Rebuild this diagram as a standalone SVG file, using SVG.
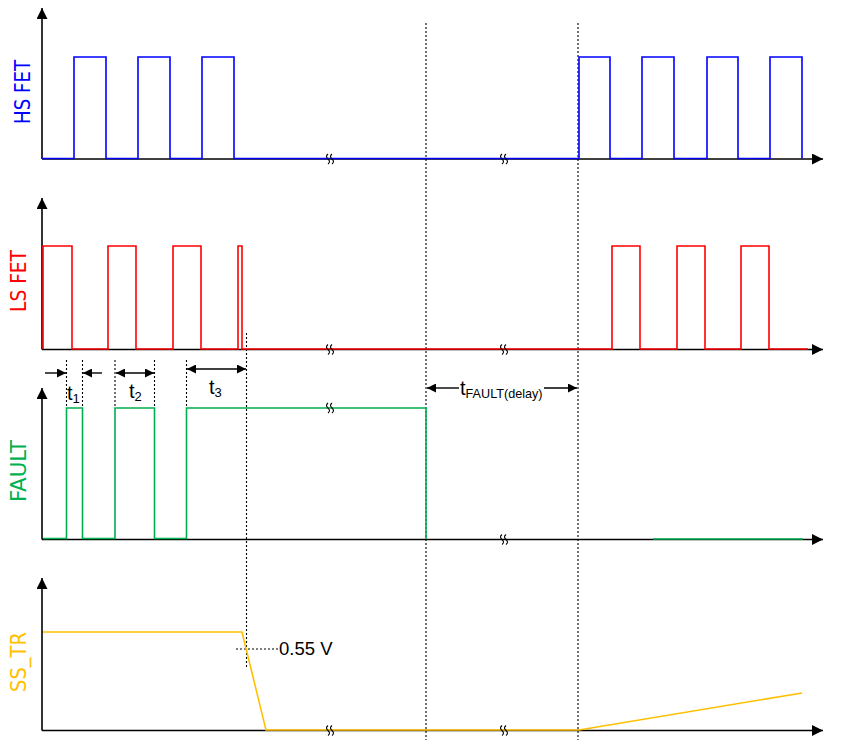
<svg xmlns="http://www.w3.org/2000/svg" width="842" height="751" viewBox="0 0 842 751">
<defs>
<style>
.ax{stroke:#000;stroke-width:1.6;fill:none}
.wf{fill:none;stroke-width:1.6;stroke-linejoin:miter}
.hs{stroke:#0000FF}
.ls{stroke:#FF0000}
.ft{stroke:#00B050}
.ss{stroke:#FFC000}
.dash{stroke:#000;stroke-width:1.1;stroke-dasharray:2,2;fill:none}
.dim{stroke:#000;stroke-width:1.4;fill:none}
.lbl{font-family:"DejaVu Sans Condensed","DejaVu Sans","Liberation Sans",sans-serif;font-stretch:condensed;font-size:21px}
.t{font-family:"Liberation Sans",Arial,sans-serif;font-size:20px;fill:#000}
.sub{font-size:13px}
.v{font-size:18.5px}
.brk{fill:none;stroke:#000;stroke-width:1.1}
</style>
<marker id="ah" viewBox="0 0 10 10" refX="10" refY="5" markerWidth="16" markerHeight="11" markerUnits="userSpaceOnUse" orient="auto"><path d="M0,0L10,5L0,10z" fill="#000"/></marker>
<marker id="da" viewBox="0 0 10 10" refX="10" refY="5" markerWidth="12" markerHeight="9" markerUnits="userSpaceOnUse" orient="auto-start-reverse"><path d="M0,0L10,5L0,10z" fill="#000"/></marker>
<g id="bk"><path class="brk" d="M-2,-5c-2.5,2-1.5,3.5 0,5s2.5,3 0,5M2,-5c-2.5,2-1.5,3.5 0,5s2.5,3 0,5"/></g>
</defs>

<!-- dashed guide lines -->
<g id="guides">
<line class="dash" x1="426" y1="23" x2="426" y2="740"/>
<line class="dash" x1="578" y1="23" x2="578" y2="740"/>
<line class="dash" x1="246.5" y1="333" x2="246.5" y2="667"/>
<line class="dash" x1="66.5" y1="360" x2="66.5" y2="408"/>
<line class="dash" x1="82.5" y1="360" x2="82.5" y2="408"/>
<line class="dash" x1="115" y1="360" x2="115" y2="408"/>
<line class="dash" x1="154.5" y1="360" x2="154.5" y2="408"/>
<line class="dash" x1="186.5" y1="360" x2="186.5" y2="408"/>
<line class="dash" x1="236" y1="649" x2="278" y2="649"/>
</g>

<!-- HS FET -->
<g id="hs-fet">
<line class="ax" x1="42" y1="159" x2="42" y2="8" marker-end="url(#ah)"/>
<line class="ax" x1="42" y1="159" x2="823" y2="159" marker-end="url(#ah)"/>
<path class="wf hs" d="M42,158.5H74V57H106V158.5H138V57H170V158.5H202V57H234V158.5H579V57H610V158.5H642V57H674V158.5H707V57H738V158.5H770V57H802V158.5"/>
<text class="lbl" fill="#0000FF" transform="translate(30,92) rotate(-90)" text-anchor="middle" textLength="64" lengthAdjust="spacingAndGlyphs">HS FET</text>
<use href="#bk" x="330" y="159"/>
<use href="#bk" x="504" y="159"/>
</g>

<!-- LS FET -->
<g id="ls-fet">
<line class="ax" x1="42" y1="349.5" x2="42" y2="198" marker-end="url(#ah)"/>
<line class="ax" x1="42" y1="349.5" x2="823" y2="349.5" marker-end="url(#ah)"/>
<path class="wf ls" d="M43,349V246H72V349H108V246H136V349H173V246H201V349H238V246H242V349H612V246H640V349H677V246H705V349H741V246H769V349H808"/>
<text class="lbl" fill="#FF0000" transform="translate(26,281) rotate(-90)" text-anchor="middle" textLength="62" lengthAdjust="spacingAndGlyphs">LS FET</text>
<use href="#bk" x="330" y="349.5"/>
<use href="#bk" x="504" y="349.5"/>
</g>

<!-- dimension arrows -->
<g id="timing">
<line class="dim" x1="45" y1="373" x2="66" y2="373" marker-end="url(#da)"/>
<line class="dim" x1="102" y1="373" x2="83" y2="373" marker-end="url(#da)"/>
<text class="t" x="67" y="400">t<tspan class="sub" dy="3">1</tspan></text>
<line class="dim" x1="116" y1="373" x2="154" y2="373" marker-start="url(#da)" marker-end="url(#da)"/>
<text class="t" x="129" y="398">t<tspan class="sub" dy="3">2</tspan></text>
<line class="dim" x1="187" y1="369" x2="246" y2="369" marker-start="url(#da)" marker-end="url(#da)"/>
<text class="t" x="209" y="394">t<tspan class="sub" dy="3">3</tspan></text>
<line class="dim" x1="427" y1="388" x2="459" y2="388" marker-start="url(#da)"/>
<line class="dim" x1="544" y1="388" x2="577" y2="388" marker-end="url(#da)"/>
<text class="t" x="460" y="395">t<tspan class="sub" dy="3" textLength="77" lengthAdjust="spacingAndGlyphs">FAULT(delay)</tspan></text>
</g>

<!-- FAULT -->
<g id="fault">
<line class="ax" x1="42" y1="539.5" x2="42" y2="388" marker-end="url(#ah)"/>
<line class="ax" x1="42" y1="539.5" x2="823" y2="539.5" marker-end="url(#ah)"/>
<path class="wf ft" d="M43,538.5H66.5V408H82.5V538.5H115V408H154.5V538.5H186.5V408H426V539"/>
<line class="wf ft" x1="653" y1="539" x2="803" y2="539"/>
<text class="lbl" fill="#00B050" transform="translate(26,471) rotate(-90)" text-anchor="middle" textLength="62" lengthAdjust="spacingAndGlyphs">FAULT</text>
<use href="#bk" x="330" y="408"/>
<use href="#bk" x="504" y="539.5"/>
</g>

<!-- SS_TR -->
<g id="ss-tr">
<line class="ax" x1="42" y1="730.5" x2="42" y2="578" marker-end="url(#ah)"/>
<line class="ax" x1="42" y1="730.5" x2="823" y2="730.5" marker-end="url(#ah)"/>
<path class="wf ss" d="M43,632H242L266,730H579L802,693"/>
<text class="lbl" fill="#FFC000" transform="translate(26,662) rotate(-90)" text-anchor="middle" textLength="60" lengthAdjust="spacingAndGlyphs">SS_TR</text>
<text class="t v" x="279" y="655">0.55 V</text>
<use href="#bk" x="330" y="730.5"/>
<use href="#bk" x="504" y="730.5"/>
</g>
</svg>
